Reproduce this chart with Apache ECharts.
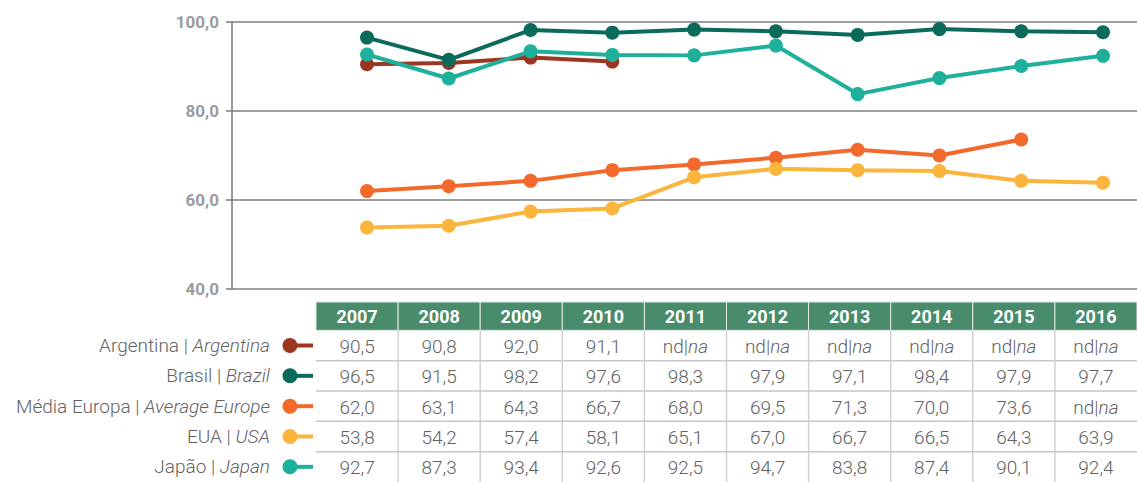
<!DOCTYPE html>
<html>
<head>
<meta charset="utf-8">
<script src="https://cdn.jsdelivr.net/npm/echarts@6/dist/echarts.min.js"></script>
<style>
  html, body { margin: 0; padding: 0; background: #ffffff; }
  #chart { width: 1137px; height: 482px; }
</style>
</head>
<body>
<div id="chart"></div>
<script>
// Years shown on the category axis and as table header
const years = ['2007', '2008', '2009', '2010', '2011', '2012', '2013', '2014', '2015', '2016'];

// Row labels (Portuguese | English)
const rowNamesPt = ['Argentina', 'Brasil', 'Média Europa', 'EUA', 'Japão'];
const rowNamesEn = ['Argentina', 'Brazil', 'Average Europe', 'USA', 'Japan'];

// Series values (null = nd | na)
const argentina = [90.5, 90.8, 92.0, 91.1, null, null, null, null, null, null];
const brasil    = [96.5, 91.5, 98.2, 97.6, 98.3, 97.9, 97.1, 98.4, 97.9, 97.7];
const europa    = [62.0, 63.1, 64.3, 66.7, 68.0, 69.5, 71.3, 70.0, 73.6, null];
const eua       = [53.8, 54.2, 57.4, 58.1, 65.1, 67.0, 66.7, 66.5, 64.3, 63.9];
const japao     = [92.7, 87.3, 93.4, 92.6, 92.5, 94.7, 83.8, 87.4, 90.1, 92.4];

// Value axis ticks
const yTicks = [40, 60, 80, 100];

const seriesValues = [argentina, brasil, europa, eua, japao];
const colors = ['#9b3621', '#0b6b5b', '#f2692b', '#fbb43c', '#1fb09b'];
const headerGreen = '#488c6c';
const fontFamily = 'Roboto, "Noto Sans", sans-serif';
const textGray = '#626262';

const fmt = v => v.toFixed(1).replace('.', ',');

// Table cells: row 0 is the year header, rows 1..5 are the series values
const cells = [];
years.forEach((y, i) => cells.push({ col: i, row: 0, text: y, value: null }));
seriesValues.forEach((arr, r) => {
  arr.forEach((v, i) => cells.push({ col: i, row: r + 1, value: v }));
});

function renderCell(params, api) {
  const cell = cells[params.dataIndex];
  const c = api.coord([cell.col, cell.row]);
  const s = api.size([1, 1]);
  const x0 = c[0] - s[0] / 2;
  const y0 = c[1] - s[1] / 2;
  const children = [];
  if (cell.row === 0) {
    children.push({
      type: 'rect',
      shape: { x: x0, y: y0 + 2, width: s[0], height: s[1] - 2 },
      style: { fill: headerGreen, stroke: '#dfe9e3', lineWidth: 1 }
    });
    children.push({
      type: 'text',
      style: {
        text: cell.text, x: c[0], y: c[1] + 1, align: 'center', verticalAlign: 'middle',
        fill: '#ffffff', fontSize: 18, fontWeight: 'bold', fontFamily: fontFamily
      }
    });
  } else {
    if (cell.row > 1) {
      children.push({
        type: 'line',
        shape: { x1: x0, y1: y0, x2: x0 + s[0], y2: y0 },
        style: { stroke: '#c6c6c6', lineWidth: 1.5 }
      });
    }
    if (cell.col > 0) {
      children.push({
        type: 'line',
        shape: { x1: x0, y1: y0, x2: x0, y2: y0 + s[1] },
        style: { stroke: '#d0d0d0', lineWidth: 1.5 }
      });
    }
    const txt = cell.value == null ? '{n|nd|}{i|na}' : '{n|' + fmt(cell.value) + '}';
    children.push({
      type: 'text',
      style: {
        text: txt, x: c[0], y: c[1] + 1, align: 'center', verticalAlign: 'middle',
        rich: {
          n: { fill: textGray, fontSize: 19, fontWeight: 300, fontFamily: fontFamily },
          i: { fill: textGray, fontSize: 19, fontWeight: 300, fontFamily: fontFamily, fontStyle: 'italic' }
        }
      }
    });
    if (cell.col === 0) {
      // legend marker: dot with a short line leading into the row
      const col = colors[cell.row - 1];
      children.push({
        type: 'line',
        shape: { x1: x0 - 26, y1: c[1], x2: x0 - 3, y2: c[1] },
        style: { stroke: col, lineWidth: 4 }
      });
      children.push({
        type: 'circle',
        shape: { cx: x0 - 26, cy: c[1], r: 7.5 },
        style: { fill: col }
      });
    }
  }
  return { type: 'group', children: children };
}

const yMin = yTicks[0];
const yMax = yTicks[yTicks.length - 1];
const yStep = yTicks[1] - yTicks[0];

const chart = echarts.init(document.getElementById('chart'), null, { renderer: 'svg' });

chart.setOption({
  animation: false,
  backgroundColor: '#ffffff',
  grid: [
    // frame with value axis and gridlines
    { left: 232, right: 0, top: 22, bottom: 193 },
    // plotting area for the lines, aligned with the table columns
    { left: 367, right: 34, top: 22, bottom: 193 },
    // data table
    { left: 316, right: 0, top: 300, height: 186 }
  ],
  xAxis: [
    { gridIndex: 0, type: 'category', data: years, show: false },
    { gridIndex: 1, type: 'category', data: years, boundaryGap: false, show: false },
    { gridIndex: 2, type: 'category', data: years, show: false }
  ],
  yAxis: [
    {
      gridIndex: 0, type: 'value', min: yMin, max: yMax, interval: yStep,
      axisLine: { show: true, lineStyle: { color: '#7a7a7a', width: 1.5 } },
      axisTick: { show: true, length: 6, lineStyle: { color: '#7a7a7a', width: 1.5 } },
      splitLine: { show: true, lineStyle: { color: '#808080', width: 1.5 } },
      axisLabel: {
        margin: 13, color: '#9b9b9b', fontSize: 17, fontWeight: 'bold', fontFamily: fontFamily,
        formatter: v => fmt(v)
      }
    },
    { gridIndex: 1, type: 'value', min: yMin, max: yMax, interval: yStep, show: false },
    {
      gridIndex: 2, type: 'category', inverse: true,
      data: [''].concat(rowNamesPt),
      axisLine: { show: false }, axisTick: { show: false }, splitLine: { show: false },
      axisLabel: {
        margin: 46,
        formatter: (v, i) => i === 0 ? '' : '{p|' + rowNamesPt[i - 1] + ' | }{e|' + rowNamesEn[i - 1] + '}',
        rich: {
          p: { color: textGray, fontSize: 19, fontWeight: 300, fontFamily: fontFamily },
          e: { color: textGray, fontSize: 19, fontWeight: 300, fontFamily: fontFamily, fontStyle: 'italic' }
        }
      }
    }
  ],
  series: [
    ...[0, 2, 3, 4, 1].map(k => ({
      name: rowNamesPt[k],
      type: 'line',
      xAxisIndex: 1,
      yAxisIndex: 1,
      data: seriesValues[k],
      symbol: 'circle',
      symbolSize: 14,
      connectNulls: false,
      itemStyle: { color: colors[k] },
      lineStyle: { color: colors[k], width: 4 },
      emphasis: { disabled: true }
    })),
    {
      type: 'custom',
      xAxisIndex: 2,
      yAxisIndex: 2,
      data: cells.map(c => [c.col, c.row]),
      renderItem: renderCell,
      clip: false,
      silent: true
    }
  ]
});
</script>
</body>
</html>
